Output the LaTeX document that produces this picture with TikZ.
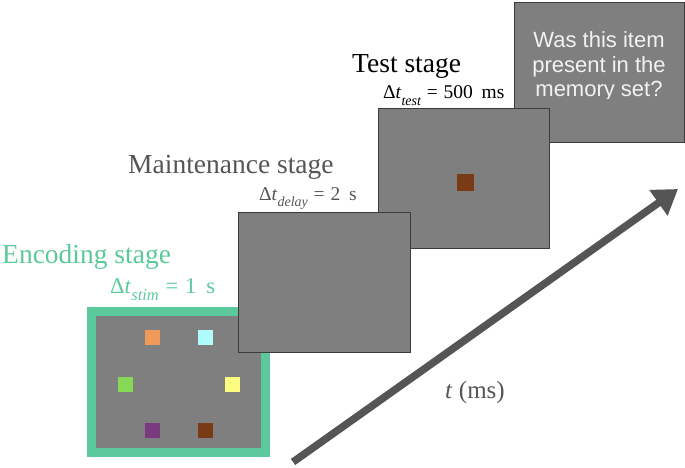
\documentclass[tikz,border=0pt]{standalone}
\usepackage{fontspec}
\setmainfont{Liberation Serif}
\newfontfamily\qfont{Liberation Sans}
\usetikzlibrary{arrows.meta}
\definecolor{encgreen}{HTML}{5BC99B}
\definecolor{scrgray}{HTML}{7F7F7F}
\definecolor{edgegray}{HTML}{3C3C3C}
\definecolor{txtgray}{HTML}{555555}
\definecolor{sqorange}{HTML}{F09A5A}
\definecolor{sqcyan}{HTML}{B0FCFC}
\definecolor{sqgreen}{HTML}{88D858}
\definecolor{sqyellow}{HTML}{FCFC80}
\definecolor{sqpurple}{HTML}{7A3A80}
\definecolor{sqbrown}{HTML}{7A3A16}
\definecolor{qwhite}{HTML}{F2F2F2}
\newcommand{\dtlab}[3]{Δ\textit{t}\raisebox{-0.32em}{\fontsize{#3}{#3}\selectfont\itshape #1}\hspace{0.3em}=\hspace{0.3em}#2}
\tikzset{
  screen/.style={draw=edgegray, line width=0.9pt, fill=scrgray, inner sep=0pt, outer sep=0pt},
  item/.style={fill=#1, draw=none, minimum size=15pt, inner sep=0pt},
  title/.style={anchor=base west, inner sep=0pt, font=\fontsize{27.5}{31}\selectfont},
  dtl/.style={anchor=base west, inner sep=0pt},
  qtext/.style={anchor=base, inner sep=0pt, text=qwhite, font=\qfont\fontsize{22}{24}\selectfont},
}
\begin{document}
\begin{tikzpicture}[x=1pt,y=-1pt]
\useasboundingbox (0,0) rectangle (685,468);
% question screen
\node[screen, minimum width=170pt, minimum height=140pt] (quest) at (599,72) {};
\begin{scope}
\clip (514,2) rectangle (684,98.5);
\node[qtext] (q1) at (599,48) {Was this item};
\node[qtext] (q2) at (599,73) {present in the};
\node[qtext] (q3) at (599,97) {memory set?};
\end{scope}
% test screen
\node[screen, minimum width=171pt, minimum height=140pt] (test) at (463.5,178) {};
\node[item=sqbrown, minimum size=17pt] (tprobe) at (465,182) {};
% encoding screen
\node[fill=scrgray, draw=encgreen, line width=9pt, inner sep=0pt, minimum width=174pt, minimum height=141pt] (enc) at (178.5,382) {};
\node[item=sqorange] (s1) at (152,337.5) {};
\node[item=sqcyan] (s2) at (205.5,337.5) {};
\node[item=sqgreen] (s3) at (125.5,384.5) {};
\node[item=sqyellow] (s4) at (232,384.5) {};
\node[item=sqpurple] (s5) at (152,430.5) {};
\node[item=sqbrown] (s6) at (205.5,430.5) {};
% maintenance screen
\node[screen, minimum width=172pt, minimum height=140pt] (maint) at (324,282) {};
% labels
\node[title, text=encgreen] (enclab) at (2,263) {Encoding stage};
\node[dtl, text=encgreen, font=\fontsize{22.5}{26}\selectfont] (encdt) at (110,293) {\dtlab{stim}{1\hspace{0.45em}s}{16.5}};
\node[title, text=txtgray] (mainlab) at (128,173) {Maintenance stage};
\node[dtl, text=txtgray, font=\fontsize{19.5}{22}\selectfont] (maindt) at (259,200) {\dtlab{delay}{2\hspace{0.45em}s}{14}};
\node[title, text=black] (testlab) at (352,73) {Test stage};
\node[dtl, text=black, font=\fontsize{19.5}{22}\selectfont] (testdt) at (383,99) {\dtlab{test}{500\hspace{0.45em}ms}{14}};
% time arrow
\coordinate (t0) at (293,462);
\coordinate (t1) at (678,189);
\draw[line width=7.5pt, draw=txtgray, -{Triangle[length=24pt,width=30pt]}] (t0) -- (t1);
\node[text=txtgray, font=\fontsize{25}{29}\selectfont] (tlab) at (475,392) {\textit{t} (ms)};
\end{tikzpicture}
\end{document}
